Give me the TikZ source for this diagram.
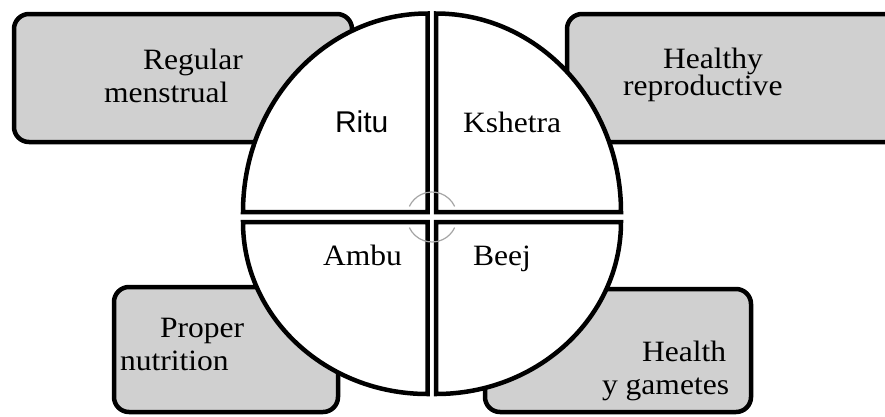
\documentclass[tikz,border=0pt]{standalone}
\usepackage{fontspec}
\setmainfont{Liberation Serif}[FakeStretch=1.07]
\newfontfamily\arialfont{Liberation Sans}
\begin{document}
\begin{tikzpicture}[x=1pt,y=1pt,
  boxstyle/.style={draw=black,line width=4.5pt,fill=boxgray,rounded corners=15pt},
  quad/.style={draw=black,line width=4.5pt,fill=white,line join=miter},
  lbl/.style={font=\fontsize{29.5}{33}\selectfont,anchor=base west,inner sep=0pt,outer sep=0pt},
  ring/.style={draw=ringgray,line width=1.2pt}]
\definecolor{boxgray}{RGB}{208,208,208}
\definecolor{ringgray}{RGB}{165,165,165}
\useasboundingbox (0,0) rectangle (885,-416);
\clip (0,0) rectangle (885,-416);
% boxes
\draw[boxstyle] (14,-14) rectangle (352,-142);
\draw[boxstyle] (567,-14) rectangle (910,-142);
\draw[boxstyle] (114,-287) rectangle (338,-412);
\draw[boxstyle] (485,-289) rectangle (751,-412);
% quadrants
\coordinate (tl) at (427.5,-212);
\coordinate (tr) at (436,-212);
\coordinate (bl) at (427.5,-222);
\coordinate (br) at (436,-222);
\draw[quad] (tl) -- ++(-184.5,0) arc[start angle=180,end angle=90,x radius=184.5pt,y radius=198.5pt] -- cycle;
\draw[quad] (tr) -- ++(0,198.5) arc[start angle=90,end angle=0,x radius=185pt,y radius=198.5pt] -- cycle;
\draw[quad] (bl) -- ++(-184.5,0) arc[start angle=180,end angle=270,x radius=184.5pt,y radius=172pt] -- cycle;
\draw[quad] (br) -- ++(0,-172) arc[start angle=270,end angle=360,x radius=185pt,y radius=172pt] -- cycle;
% center ring arcs
\coordinate (rc) at (432,-217);
\draw[ring] (rc) ++(25:25) arc[start angle=25,end angle=155,radius=25pt];
\draw[ring] (rc) ++(205:25) arc[start angle=205,end angle=335,radius=25pt];
% labels
\node[lbl] (t1a) at (143,-69) {Regular};
\node[lbl] (t1b) at (104,-102) {menstrual};
\node[lbl] (t2a) at (663,-68) {Healthy};
\node[lbl] (t2b) at (623,-95) {reproductive};
\node[lbl,font=\arialfont\fontsize{30}{33}\selectfont] (q1) at (335,-132) {Ritu};
\node[lbl] (q2) at (463,-132) {Kshetra};
\node[lbl] (q3) at (323,-265) {Ambu};
\node[lbl] (q4) at (473,-265) {Beej};
\node[lbl] (t3a) at (160,-337) {Proper};
\node[lbl] (t3b) at (120,-370) {nutrition};
\node[lbl] (t4a) at (642,-361) {Health};
\node[lbl] (t4b) at (602,-394) {y gametes};
\end{tikzpicture}
\end{document}
